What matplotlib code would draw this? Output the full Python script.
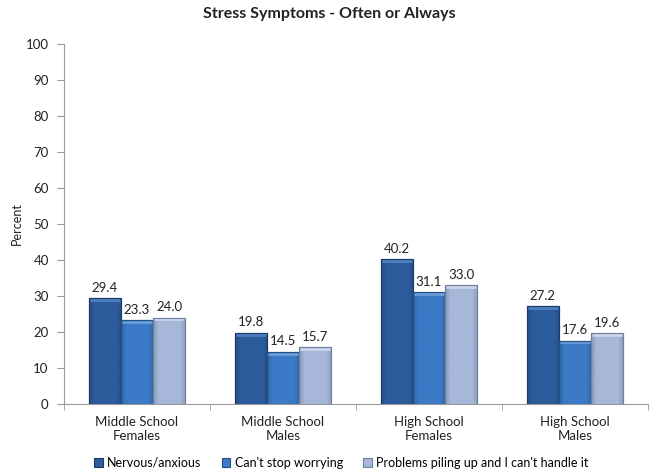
import matplotlib
matplotlib.use("Agg")
import matplotlib.pyplot as plt
from matplotlib.colors import to_rgb
import numpy as np

categories = ["Middle School\nFemales", "Middle School\nMales", "High School\nFemales", "High School\nMales"]
series_names = ["Nervous/anxious", "Can't stop worrying", "Problems piling up and I can't handle it"]
nervous = [29.4, 19.8, 40.2, 27.2]
worrying = [23.3, 14.5, 31.1, 17.6]
piling_up = [24.0, 15.7, 33.0, 19.6]
y_ticks = [0, 10, 20, 30, 40, 50, 60, 70, 80, 90, 100]

plt.rcParams["font.family"] = ["Lato", "DejaVu Sans"]

colors = ["#2d5c9c", "#3b7ac6", "#a6b7d9"]
edges = ["#1c3a66", "#24507f", "#6f7f9f"]
tops = ["#4f7fc0", "#6a9ddc", "#c9d5ec"]


def shade(color, factor):
    r, g, b = to_rgb(color)
    return (r * factor, g * factor, b * factor)


fig = plt.figure(figsize=(6.49, 4.70), dpi=100)
ax = fig.add_axes([64 / 649, 66 / 470, 584 / 649, 360 / 470])

x = np.arange(len(categories))
w = 0.22
for i, (vals, c, e, t, name) in enumerate(zip([nervous, worrying, piling_up], colors, edges, tops, series_names)):
    pos = x + (i - 1) * w
    bars = ax.bar(pos, vals, width=w, color=c, edgecolor=e, linewidth=0.8, label=name, zorder=3)
    # bevelled look: darker toward the sides, lighter strip at the top
    prof = np.concatenate([np.linspace(0.85, 1.0, 6), np.ones(20), np.linspace(1.0, 0.85, 6)])
    grad = np.array([[shade(c, f) for f in prof]])
    for b, v in zip(bars, vals):
        x0 = b.get_x()
        im = ax.imshow(grad, extent=(x0, x0 + w, 0, v), aspect="auto", zorder=3.1,
                       interpolation="bilinear")
        im.set_clip_path(b)
        ax.plot([x0 + w * 0.04, x0 + w * 0.96], [v - 0.5, v - 0.5], color=t, lw=2.0,
                solid_capstyle="butt", zorder=3.2)
        ax.bar(x0 + w / 2, v, width=w, fill=False, edgecolor=e, linewidth=0.8, zorder=3.3)
        ax.text(x0 + w / 2, v + 1.2, f"{v:.1f}", ha="center", va="bottom",
                fontsize=9.5, color="#222222")

ax.set_xlim(-0.5, len(categories) - 0.5)
ax.set_ylim(0, 100)
ax.set_aspect("auto")
ax.set_yticks(y_ticks)
ax.tick_params(axis="y", labelsize=9.5, length=5, color="#999999", labelcolor="#222222", pad=6)
ax.set_xticks(x)
ax.set_xticklabels(categories, fontsize=9.5, color="#222222")
ax.tick_params(axis="x", length=0, pad=9)
ax.set_xticks(np.arange(len(categories) + 1) - 0.5, minor=True)
ax.tick_params(axis="x", which="minor", length=4, color="#999999")

for s in ["top", "right"]:
    ax.spines[s].set_visible(False)
for s in ["left", "bottom"]:
    ax.spines[s].set_color("#999999")
    ax.spines[s].set_linewidth(0.8)

ax.set_ylabel("Percent", fontsize=9, color="#222222")
ax.yaxis.set_label_coords(-0.07, 0.5)
fig.suptitle("Stress Symptoms - Often or Always", fontsize=11.5, fontweight="bold",
             color="#222222", x=0.507, y=0.985, va="top")

fig.legend(loc="lower center", bbox_to_anchor=(0.526, -0.013), ncol=3, frameon=False,
           fontsize=9, handlelength=0.7, handleheight=0.7, handletextpad=0.35, columnspacing=1.6,
           borderaxespad=0.2)

fig.savefig("out.png", dpi=100)
